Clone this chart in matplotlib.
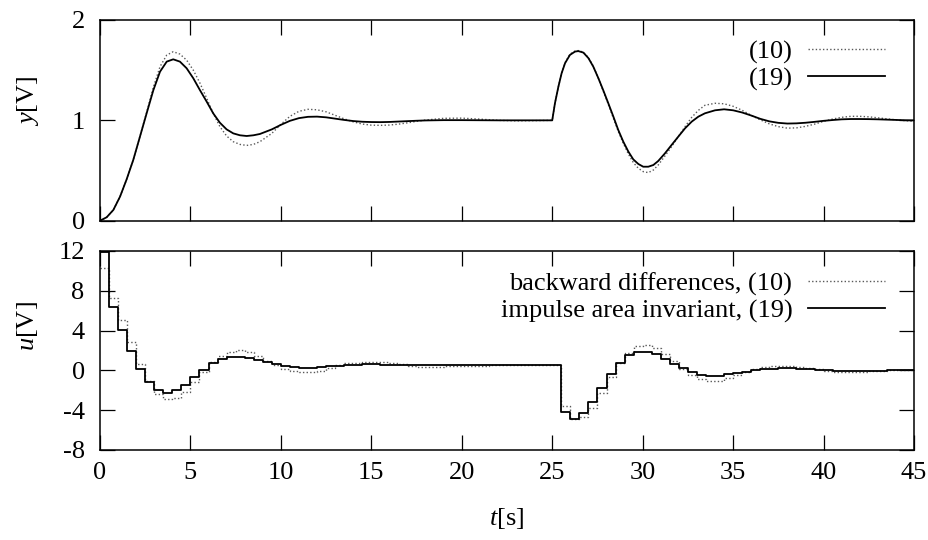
#!/usr/bin/env python3
"""
Step response of the two discretisations:
output y (top) and control signal u (bottom)
"""
import numpy as np
import matplotlib
matplotlib.use("Agg")
import matplotlib.pyplot as plt

# ---- Data ----
# output y: sampled denser where the curves bend
t_y = [
    0.0, 0.37, 0.74, 1.11, 1.47, 1.84, 2.21, 2.58, 2.95, 3.32,
    3.69, 4.05, 4.42, 4.79, 5.16, 5.53, 5.9, 6.26, 6.63, 7.0,
    7.37, 7.74, 8.11, 8.48, 8.84,
    9.5, 10.0, 10.5, 11.0, 11.5, 12.0, 12.5, 13.0, 13.5, 14.0,
    14.5, 15.0, 15.5, 16.0, 16.5, 17.0, 17.5, 18.0,
    19.0, 20.0, 21.0, 22.0, 23.0, 24.0, 25.0,
    25.15, 25.34, 25.52, 25.71, 25.98, 26.26, 26.44, 26.72, 27.0, 27.27,
    27.55, 27.82, 28.1, 28.38, 28.65, 28.93, 29.21, 29.48, 29.76, 30.03,
    30.31, 30.59, 30.86, 31.23, 31.6, 31.97, 32.34, 32.71, 33.08, 33.44,
    34.0, 34.5, 35.0, 35.5, 36.0, 36.5, 37.0, 37.5, 38.0, 38.5,
    39.0, 39.5, 40.0, 40.5, 41.0, 41.5, 42.0, 42.5, 43.0, 43.5,
    44.0, 44.5, 45.0,
]
y_bd = [
    0.0, 0.034, 0.107, 0.24, 0.41, 0.605, 0.84, 1.08, 1.33, 1.535,
    1.65, 1.684, 1.66, 1.60, 1.50, 1.37, 1.22, 1.07, 0.937, 0.844,
    0.787, 0.76, 0.75, 0.76, 0.787,
    0.87, 0.96, 1.04, 1.09, 1.11, 1.105, 1.085, 1.05, 1.015, 0.985,
    0.963, 0.952, 0.95, 0.953, 0.962, 0.975, 0.99, 1.003,
    1.02, 1.022, 1.012, 1.0, 0.995, 0.997, 1.0,
    1.17, 1.335, 1.47, 1.575, 1.66, 1.69, 1.695, 1.68, 1.625, 1.54,
    1.42, 1.29, 1.16, 1.02, 0.89, 0.77, 0.664, 0.58, 0.522, 0.489,
    0.479, 0.505, 0.555, 0.645, 0.738, 0.838, 0.937, 1.03, 1.10, 1.15,
    1.17, 1.165, 1.14, 1.10, 1.05, 1.005, 0.965, 0.937, 0.922, 0.925,
    0.94, 0.962, 0.99, 1.013, 1.03, 1.04, 1.04, 1.035, 1.025, 1.015,
    1.005, 0.997, 0.99,
]
y_iai = [
    0.0, 0.034, 0.107, 0.24, 0.41, 0.605, 0.837, 1.07, 1.30, 1.485,
    1.585, 1.608, 1.585, 1.519, 1.419, 1.30, 1.186, 1.07, 0.976, 0.91,
    0.87, 0.851, 0.844, 0.851, 0.864,
    0.91, 0.955, 0.995, 1.022, 1.035, 1.037, 1.03, 1.017, 1.004, 0.993,
    0.986, 0.983, 0.982, 0.984, 0.988, 0.992, 0.996, 0.999,
    1.002, 1.002, 1.001, 1.0, 1.0, 1.0, 1.0,
    1.17, 1.335, 1.47, 1.57, 1.652, 1.685, 1.69, 1.675, 1.62, 1.535,
    1.42, 1.30, 1.17, 1.037, 0.904, 0.787, 0.688, 0.611, 0.565, 0.538,
    0.538, 0.555, 0.595, 0.671, 0.755, 0.838, 0.92, 0.987, 1.037, 1.07,
    1.10, 1.11, 1.10, 1.078, 1.048, 1.015, 0.99, 0.975, 0.968, 0.97,
    0.976, 0.985, 0.995, 1.003, 1.01, 1.013, 1.013, 1.012, 1.01, 1.007,
    1.004, 1.001, 1.0,
]

# control signal u, one value per 0.5 s sampling interval (zero order hold)
T_SAMPLE = 0.5
u_bd = [
    10.26, 7.25, 5.07, 2.82, 0.61, -1.1, -2.4, -2.9, -2.8, -2.2,
    -1.2, -0.13, 0.84, 1.45, 1.88, 2.0, 1.82, 1.48, 0.98, 0.58,
    0.17, -0.1, -0.2, -0.2, -0.03, 0.2, 0.54, 0.71, 0.78, 0.81,
    0.81, 0.81, 0.71, 0.61, 0.44, 0.38, 0.38, 0.38, 0.40, 0.42,
    0.44, 0.46, 0.49, 0.51, 0.53, 0.55, 0.56, 0.56, 0.56, 0.55,
    0.55, -3.55, -4.9, -4.7, -3.75, -2.3, -0.7, 0.78, 1.78, 2.49,
    2.52, 2.22, 1.61, 0.91, 0.14, -0.46, -0.86, -1.06, -1.03, -0.8,
    -0.46, -0.13, 0.1, 0.3, 0.42, 0.44, 0.44, 0.38, 0.25, 0.1,
    -0.05, -0.15, -0.2, -0.2, -0.18, -0.1, -0.05, 0.0, 0.02, 0.03,
]
u_iai = [
    11.9, 6.4, 4.06, 1.95, 0.1, -1.2, -2.0, -2.24, -1.97, -1.43,
    -0.63, 0.04, 0.71, 1.11, 1.35, 1.38, 1.23, 1.05, 0.81, 0.61,
    0.44, 0.31, 0.28, 0.28, 0.31, 0.40, 0.47, 0.55, 0.58, 0.60,
    0.60, 0.59, 0.58, 0.56, 0.55, 0.55, 0.55, 0.55, 0.55, 0.55,
    0.55, 0.55, 0.55, 0.55, 0.55, 0.55, 0.55, 0.55, 0.55, 0.55,
    0.55, -4.15, -4.85, -4.3, -3.14, -1.8, -0.4, 0.78, 1.55, 1.88,
    1.88, 1.65, 1.18, 0.68, 0.21, -0.16, -0.43, -0.53, -0.53, -0.4,
    -0.3, -0.15, 0.0, 0.11, 0.18, 0.2, 0.2, 0.18, 0.12, 0.08,
    0.03, -0.02, -0.05, -0.07, -0.07, -0.05, -0.03, 0.0, 0.02, 0.02,
]

X_TICKS = [0, 5, 10, 15, 20, 25, 30, 35, 40, 45]
Y_TICKS_TOP = [0, 1, 2]
Y_TICKS_BOTTOM = [-8, -4, 0, 4, 8, 12]
LEGEND_TOP = ["(10)", "(19)"]
LEGEND_BOTTOM = ["backward differences, (10)", "impulse area invariant, (19)"]

# ---- Style ----
FONT_SIZE = 19
DOT_STYLE = dict(color="0.35", lw=1.0, linestyle=(0, (1, 1.6)))
SOLID_STYLE = dict(color="black", lw=1.3)

plt.rcParams["font.family"] = "Liberation Serif"
plt.rcParams["mathtext.fontset"] = "custom"
plt.rcParams["mathtext.rm"] = "Liberation Serif"
plt.rcParams["mathtext.it"] = "Liberation Serif:italic"
plt.rcParams["axes.unicode_minus"] = False
plt.rcParams["font.size"] = FONT_SIZE


def style_axes(ax):
    ax.tick_params(direction="in", length=11, width=0.9, top=True,
                   right=True, labelsize=FONT_SIZE)
    ax.tick_params(axis="y", pad=11)
    ax.tick_params(axis="x", pad=9)
    for sp in ax.spines.values():
        sp.set_linewidth(1.1)
    ax.set_xlim(0, 45)
    ax.set_xticks(X_TICKS)


def right_legend(ax, labels, top):
    leg = ax.legend(labels, loc="upper right", bbox_to_anchor=(0.964, top),
                    frameon=False, markerfirst=False, handlelength=2.9,
                    handletextpad=0.6, labelspacing=0.12, borderpad=0,
                    borderaxespad=0, fontsize=FONT_SIZE)
    # gnuplot style: text right-justified against the sample line
    for col in leg._legend_handle_box.get_children():
        col.align = "right"
    return leg


fig = plt.figure(figsize=(9.29, 5.4), dpi=100)
ax1 = fig.add_axes([0.1076, 0.5913, 0.8763, 0.3717])
ax2 = fig.add_axes([0.1076, 0.1667, 0.8763, 0.3685])

# top: output
ax1.plot(t_y, y_bd, **DOT_STYLE)
ax1.plot(t_y, y_iai, **SOLID_STYLE)
style_axes(ax1)
ax1.set_ylim(0, 2)
ax1.set_yticks(Y_TICKS_TOP)
ax1.tick_params(labelbottom=False)
ax1.set_ylabel(r"$y$[V]", fontsize=FONT_SIZE)
ax1.yaxis.set_label_coords(-0.0885, 0.6)
ax1.yaxis.label.set_va("center")
right_legend(ax1, LEGEND_TOP, 0.90)

# bottom: control signal
t_u = np.arange(len(u_iai) + 1) * T_SAMPLE
ax2.step(t_u, u_bd + [u_bd[-1]], where="post", **DOT_STYLE)
ax2.step(t_u, u_iai + [u_iai[-1]], where="post", **SOLID_STYLE)
style_axes(ax2)
ax2.set_ylim(-8, 12)
ax2.set_yticks(Y_TICKS_BOTTOM)
ax2.set_ylabel(r"$u$[V]", fontsize=FONT_SIZE)
ax2.yaxis.set_label_coords(-0.0885, 0.62)
ax2.yaxis.label.set_va("center")
ax2.set_xlabel(r"$t$[s]", fontsize=FONT_SIZE)
ax2.xaxis.set_label_coords(0.5, -0.342)
ax2.xaxis.label.set_va("center")
right_legend(ax2, LEGEND_BOTTOM, 0.895)

fig.savefig("out.png", dpi=100)
